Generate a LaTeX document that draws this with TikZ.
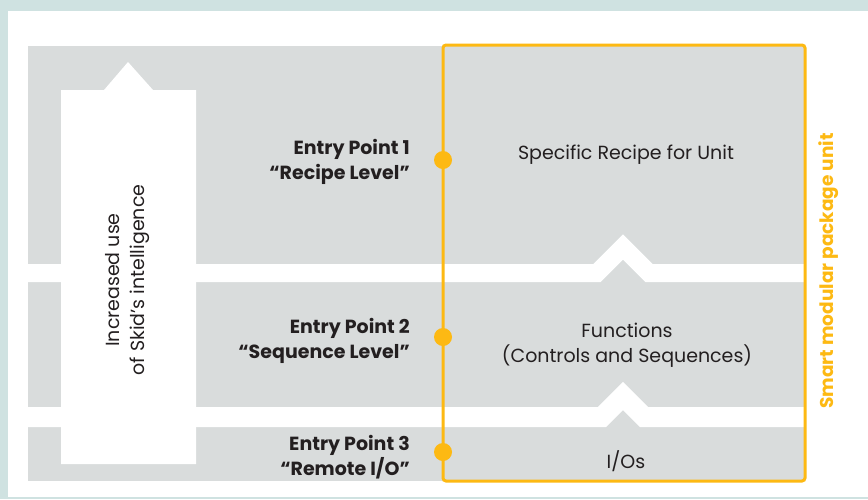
\documentclass[tikz,border=0pt]{standalone}
\usepackage{fontspec}
\setmainfont{Poppins}
\definecolor{bgteal}{HTML}{CFE2E1}
\definecolor{bandgrey}{HTML}{D9DCDC}
\definecolor{orng}{HTML}{FDB913}
\definecolor{ink}{HTML}{231F20}
\begin{document}
\begin{tikzpicture}[x=1pt,y=-1pt,
  bodytext/.style={text=ink, font=\fontsize{19}{25}\selectfont, align=center, inner sep=0pt},
  entrytext/.style={text=ink, font=\fontsize{19}{25}\selectfont\bfseries, align=right, anchor=east, inner sep=0pt},
  gap/.style={draw=white, line cap=butt, line join=miter},
  dot/.style={circle, fill=orng, minimum size=18pt, inner sep=0pt}]
\useasboundingbox (0,0) rectangle (868,499);
\fill[bgteal] (0,0) rectangle (868,499);
\fill[white] (8,11) rectangle (868,497);
% grey bands
\fill[bandgrey] (28,46) rectangle (805,481);
\draw[gap, line width=18] (20,273) -- (597,273) -- (623,247) -- (649,273) -- (812,273);
\draw[gap, line width=20] (20,417) -- (602,417) -- (623,396) -- (644,417) -- (812,417);
% arrow
\fill[white] (61,464) -- (61,90) -- (104,90) -- (128,62) -- (153,90) -- (196,90) -- (196,464) -- cycle;
\node[bodytext, rotate=90] (arrowtext) at (128,280) {Increased use\\of Skid’s intelligence};
% orange unit
\draw[orng, line width=3, rounded corners=3] (443,45) rectangle (805,481);
\node[dot] (d1) at (443,160) {};
\node[dot] (d2) at (443,337) {};
\node[dot] (d3) at (443,452) {};
\node[entrytext] (e1) at (410,162) {Entry Point 1\\“Recipe Level”};
\node[entrytext] (e2) at (410,341) {Entry Point 2\\“Sequence Level”};
\node[entrytext] (e3) at (410,457) {Entry Point 3\\“Remote I/O”};
\node[bodytext] (b1) at (626,155) {Specific Recipe for Unit};
\node[bodytext] (b2) at (627,345) {Functions\\(Controls and Sequences)};
\node[bodytext] (b3) at (626,461) {I/Os};
\node[bodytext, text=orng, font=\fontsize{18.5}{22}\selectfont\bfseries, rotate=90] (unit) at (829,271) {Smart modular package unit};
\end{tikzpicture}
\end{document}
